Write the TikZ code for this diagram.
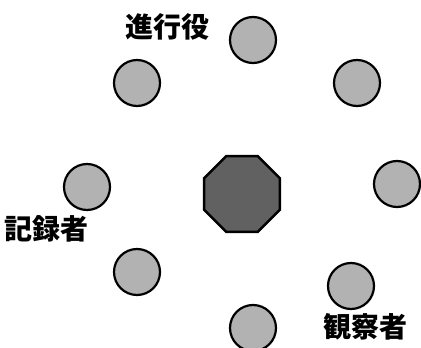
\documentclass[tikz,border=0pt]{standalone}
\usepackage{fontspec}
\newfontfamily\jp{Noto Sans CJK JP}
\usetikzlibrary{shapes.geometric}
\begin{document}
\begin{tikzpicture}[x=1pt,y=-1pt,
  member/.style={circle,draw=black,line width=2.2pt,fill=black!30,minimum size=46pt,inner sep=0pt},
  centre/.style={regular polygon,regular polygon sides=8,draw=black,line width=2.4pt,fill=black!62,minimum size=82pt,inner sep=0pt},
  role/.style={font=\jp\fontsize{28pt}{30pt}\selectfont\bfseries,inner sep=0pt}]
\useasboundingbox[fill=white] (0,0) rectangle (421,348);
\node[member] (top) at (253,40) {};
\node[member] (ul) at (137,83) {};
\node[member] (ur) at (357,83) {};
\node[member] (l) at (87,187) {};
\node[member] (r) at (397,184) {};
\node[member] (ll) at (137,272) {};
\node[member] (lr) at (351,286) {};
\node[member] (b) at (253,328) {};
\node[centre] (c) at (242,194) {};
\node[role] (t1) at (167,27) {進行役};
\node[role] (t2) at (47,229) {記録者};
\node[role] (t3) at (365,327) {観察者};
\end{tikzpicture}
\end{document}
